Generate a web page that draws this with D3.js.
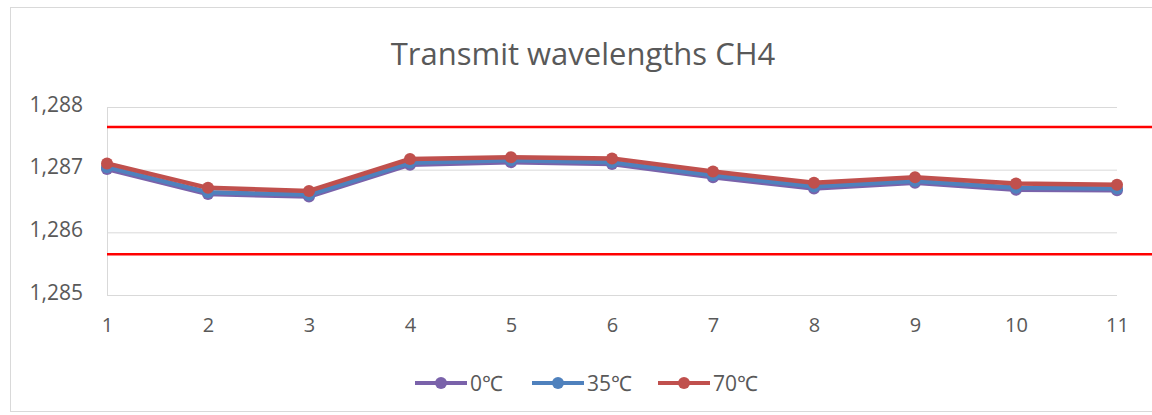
<!DOCTYPE html>
<html>
<head>
<meta charset="utf-8">
<script src="https://cdn.jsdelivr.net/npm/d3@7"></script>
<style>
  body { margin: 0; background: #fff; }
  svg, svg text { font-family: "Open Sans", "Noto Sans", sans-serif; }
</style>
</head>
<body>
<div id="chart"></div>
<script>
// sample index along the x axis
const samples = [1, 2, 3, 4, 5, 6, 7, 8, 9, 10, 11];
// transmit wavelength (µm) per temperature
const series0 = [1.28701, 1.28661, 1.28657, 1.28708, 1.28712, 1.28709, 1.28688, 1.28670, 1.28679, 1.28668, 1.28667];
const series35 = [1.28704, 1.28664, 1.28660, 1.28711, 1.28715, 1.28712, 1.28691, 1.28673, 1.28682, 1.28671, 1.28670];
const series70 = [1.28710, 1.28671, 1.28666, 1.28717, 1.28720, 1.28718, 1.28697, 1.28679, 1.28688, 1.28678, 1.28676];
const seriesNames = ['0℃', '35℃', '70℃'];
// spec limits
const limits = [1.28768, 1.28565];
const yTicks = [1.285, 1.286, 1.287, 1.288];

const width = 1152, height = 415;
const margin = { top: 107, right: 35, bottom: 120, left: 107 };
const plotW = width - margin.left - margin.right;
const plotH = height - margin.top - margin.bottom;

const locale = d3.formatLocale({ decimal: ',', thousands: '.', grouping: [3], currency: ['', ''] });
const fmt = locale.format('.3f');

const svg = d3.select('#chart').append('svg')
  .attr('width', width)
  .attr('height', height);

// chart border
svg.append('rect')
  .attr('x', 10.5).attr('y', 7.5)
  .attr('width', width - 5).attr('height', height - 11)
  .attr('fill', 'none')
  .attr('stroke', '#d9d9d9');

svg.append('text')
  .attr('x', 583).attr('y', 65)
  .attr('text-anchor', 'middle')
  .attr('font-size', 31)
  .attr('fill', '#595959')
  .text('Transmit wavelengths CH4');

const g = svg.append('g').attr('transform', `translate(${margin.left},${margin.top})`);

const x = d3.scaleLinear().domain([1, 11]).range([0, plotW]);
const y = d3.scaleLinear().domain([1.285, 1.288]).range([plotH, 0]);

// gridlines
g.append('g')
  .call(d3.axisLeft(y).tickValues(yTicks).tickSize(-plotW).tickFormat(fmt).tickPadding(24))
  .call(a => a.select('.domain').remove())
  .call(a => a.selectAll('line').attr('stroke', '#d9d9d9'))
  .call(a => a.selectAll('text').attr('fill', '#595959').attr('font-size', 21)
    .attr('font-family', '"Open Sans", sans-serif').attr('dy', '0.2em'));

g.append('line')
  .attr('x1', 0.5).attr('x2', 0.5)
  .attr('y1', 0).attr('y2', plotH)
  .attr('stroke', '#d9d9d9');

g.append('g')
  .attr('transform', `translate(0,${plotH})`)
  .call(d3.axisBottom(x).tickValues(samples).tickSize(0).tickPadding(23).tickFormat(d3.format('d')))
  .call(a => a.select('.domain').remove())
  .call(a => a.selectAll('text').attr('fill', '#595959').attr('font-size', 20)
    .attr('font-family', '"Open Sans", sans-serif'));

// limit lines
g.selectAll('.limit')
  .data(limits)
  .enter()
  .append('line')
  .attr('class', 'limit')
  .attr('x1', 0).attr('x2', plotW + 35)
  .attr('y1', d => y(d)).attr('y2', d => y(d))
  .attr('stroke', '#ff0000')
  .attr('stroke-width', 2.5);

const colors = ['#7a62aa', '#4f81bd', '#c0504d'];
const data = [series0, series35, series70];

const line = d3.line()
  .x((d, i) => x(samples[i]))
  .y(d => y(d));

data.forEach((vals, k) => {
  g.append('path')
    .datum(vals)
    .attr('d', line)
    .attr('fill', 'none')
    .attr('stroke', colors[k])
    .attr('stroke-width', 4.5)
    .attr('stroke-linejoin', 'round');
  g.selectAll('.pt' + k)
    .data(vals)
    .enter()
    .append('circle')
    .attr('class', 'pt' + k)
    .attr('cx', (d, i) => x(samples[i]))
    .attr('cy', d => y(d))
    .attr('r', 6)
    .attr('fill', colors[k]);
});

// legend
const legendX = [415, 532, 658];
const legend = svg.append('g').attr('transform', 'translate(0,383)');
seriesNames.forEach((name, k) => {
  const item = legend.append('g').attr('transform', `translate(${legendX[k]},0)`);
  item.append('line')
    .attr('x1', 0).attr('x2', 52)
    .attr('stroke', colors[k]).attr('stroke-width', 4);
  item.append('circle')
    .attr('cx', 26).attr('r', 6).attr('fill', colors[k]);
  item.append('text')
    .attr('x', 55).attr('y', 8)
    .attr('font-size', 21)
    .attr('fill', '#595959')
    .text(name);
});
</script>
</body>
</html>
